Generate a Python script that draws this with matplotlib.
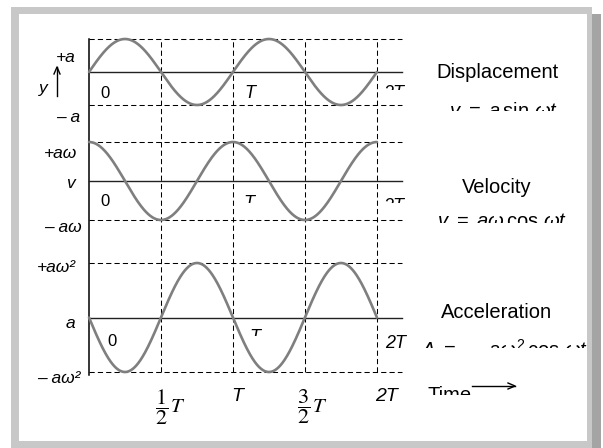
import matplotlib.pyplot as plt
import numpy as np
from matplotlib.patches import Rectangle
from matplotlib.transforms import Bbox, TransformedBbox

plt.rcParams['font.family'] = ['Liberation Sans', 'DejaVu Sans']
plt.rcParams['mathtext.fontset'] = 'custom'
plt.rcParams['mathtext.rm'] = 'Liberation Sans'
plt.rcParams['mathtext.it'] = 'Liberation Sans:italic'

W, H = 603, 448

# time in units of the period T
t_end = 2.0
x_max = 2.174
period_marks = [0.5, 1.0, 1.5, 2.0]

# one panel per quantity, curve = sin(2*pi*t/T + phase)
panel_names = ["Displacement", "Velocity", "Acceleration"]
panel_eqs = [r"$y\ =\ a\,\mathrm{sin}\ \omega t$",
             r"$v\ =\ a\omega\,\mathrm{cos}\ \omega t$",
             r"$A\ =\ -\ a\omega^2\,\mathrm{cos}\ \omega t$"]
phase_deg = [0, 90, 180]
upper_labels = ["+a", "+aω", "+aω²"]
mid_labels = ["y", "v", "a"]
lower_labels = ["– a", "– aω", "– aω²"]

# panel extents in pixels from the top (top dashed, bottom dashed)
panel_px = [(39, 105), (142, 220), (263, 372)]


def fx(x):
    return x / W


def fy(y):
    return 1 - y / H


def clip_below(txt, y_px):
    box = TransformedBbox(Bbox([[0, fy(y_px)], [1, 1]]), fig.transFigure)
    txt.set_clip_box(box)
    txt.set_clip_on(True)


def fig_line(xs, ys, **kw):
    fig.add_artist(plt.Line2D([fx(x) for x in xs], [fy(y) for y in ys],
                              color='black', lw=1.0, transform=fig.transFigure, **kw))


fig = plt.figure(figsize=(W / 100, H / 100), dpi=100)

# frame with shadow
frame_kw = dict(transform=fig.transFigure, edgecolor='none', zorder=-5)
fig.add_artist(Rectangle((fx(11), fy(448)), fx(592) - fx(11), fy(7) - fy(448),
                         facecolor='#c8c8c8', **frame_kw))
fig.add_artist(Rectangle((fx(592), fy(448)), fx(601) - fx(592), fy(14) - fy(448),
                         facecolor='#a4a4a4', **frame_kw))
fig.add_artist(Rectangle((fx(19), fy(441)), fx(587) - fx(19), fy(14) - fy(441),
                         facecolor='white', **frame_kw))

dash_kw = dict(color='black', lw=0.75, dashes=(5, 3), clip_on=False)

# background axes for the vertical grid and the y axis line
bg = fig.add_axes([fx(89), fy(372), fx(402) - fx(89), fy(39) - fy(372)])
bg.set_xlim(0, x_max)
bg.set_ylim(0, 1)
bg.axis('off')
for m in period_marks:
    bg.axvline(m, **dash_kw)
bg.plot([0, 0], [-0.01, 1], color='black', lw=1.1, clip_on=False)

t = np.linspace(0, t_end, 600)
for i, (top, bot) in enumerate(panel_px):
    ax = fig.add_axes([fx(89), fy(bot), fx(402) - fx(89), fy(top) - fy(bot)])
    ax.set_xlim(0, x_max)
    ax.set_ylim(-1, 1)
    ax.axis('off')
    ax.patch.set_alpha(0)
    ax.axhline(1, **dash_kw)
    ax.axhline(-1, **dash_kw)
    ax.axhline(0, color='#222222', lw=1.0, clip_on=False)
    ax.plot(t, np.sin(2 * np.pi * t + np.radians(phase_deg[i])),
            color='#7f7f7f', lw=1.9, clip_on=False, solid_capstyle='round')

# left side labels
lab_kw = dict(fontsize=12.5, style='italic', ha='right', va='center')
fig.text(fx(76), fy(57), upper_labels[0], **lab_kw)
fig.text(fx(48), fy(89), mid_labels[0], **lab_kw)
fig_line([57, 57], [96, 67])
fig_line([54, 57, 60], [74, 67, 74])
fig.text(fx(80), fy(117), lower_labels[0], **lab_kw)
fig.text(fx(77), fy(153), upper_labels[1], **lab_kw)
fig.text(fx(75), fy(183), mid_labels[1], **lab_kw)
fig.text(fx(82), fy(227), lower_labels[1], **lab_kw)
fig.text(fx(76), fy(267), upper_labels[2], **lab_kw)
fig.text(fx(75), fy(324), mid_labels[2], **lab_kw)
fig.text(fx(80), fy(378), lower_labels[2], **lab_kw)

# labels inside the panels
fig.text(fx(105), fy(94), "0", fontsize=12, ha='center', va='center')
fig.text(fx(250), fy(94), "T", fontsize=13, style='italic', ha='center', va='center')
t1 = fig.text(fx(383), fy(85), "2T", fontsize=13, style='italic', ha='left', va='top')
clip_below(t1, 90)
fig.text(fx(105), fy(201), "0", fontsize=12, ha='center', va='center')
t2 = fig.text(fx(249), fy(195), "T", fontsize=13, style='italic', ha='center', va='top')
clip_below(t2, 203)
t3 = fig.text(fx(383), fy(198), "2T", fontsize=13, style='italic', ha='left', va='top')
clip_below(t3, 203)
fig.text(fx(112), fy(342), "0", fontsize=12, ha='center', va='center')
t4 = fig.text(fx(255), fy(329), "T", fontsize=13, style='italic', ha='center', va='top')
clip_below(t4, 336)
fig.text(fx(385), fy(348), "2T", fontsize=13, style='italic', ha='left', va='baseline')

# time axis labels under the plot
frac_kw = dict(fontsize=16, math_fontfamily='stix', ha='center', va='center')
fig.text(fx(162), fy(407), r"$\dfrac{1}{2}$", **frac_kw)
fig.text(fx(178), fy(412), r"$T$", fontsize=15, math_fontfamily='stix',
         ha='center', va='baseline')
fig.text(fx(304), fy(407), r"$\dfrac{3}{2}$", **frac_kw)
fig.text(fx(320), fy(412), r"$T$", fontsize=15, math_fontfamily='stix',
         ha='center', va='baseline')
fig.text(fx(237), fy(401), "T", fontsize=14, style='italic', ha='center', va='baseline')
fig.text(fx(386), fy(401), "2T", fontsize=14, style='italic', ha='center', va='baseline')

# right side descriptions
fig.text(fx(497), fy(78), panel_names[0], fontsize=14.5, ha='center', va='baseline')
e1 = fig.text(fx(448), fy(100), panel_eqs[0], fontsize=14.5, ha='left', va='top')
clip_below(e1, 111)
fig.text(fx(497), fy(193), panel_names[1], fontsize=14.5, ha='center', va='baseline')
e2 = fig.text(fx(437), fy(212), panel_eqs[1], fontsize=14.5, ha='left', va='top')
clip_below(e2, 223)
fig.text(fx(497), fy(318), panel_names[2], fontsize=14.5, ha='center', va='baseline')
e3 = fig.text(fx(420), fy(339), panel_eqs[2], fontsize=14.5, ha='left', va='top')
clip_below(e3, 348)
tm = fig.text(fx(428), fy(386), "Time", fontsize=14.5, ha='left', va='top')
clip_below(tm, 395)
fig_line([472, 515], [386, 386])
fig_line([508, 515, 508], [383, 386, 389])

fig.savefig("out.png", dpi=100)
